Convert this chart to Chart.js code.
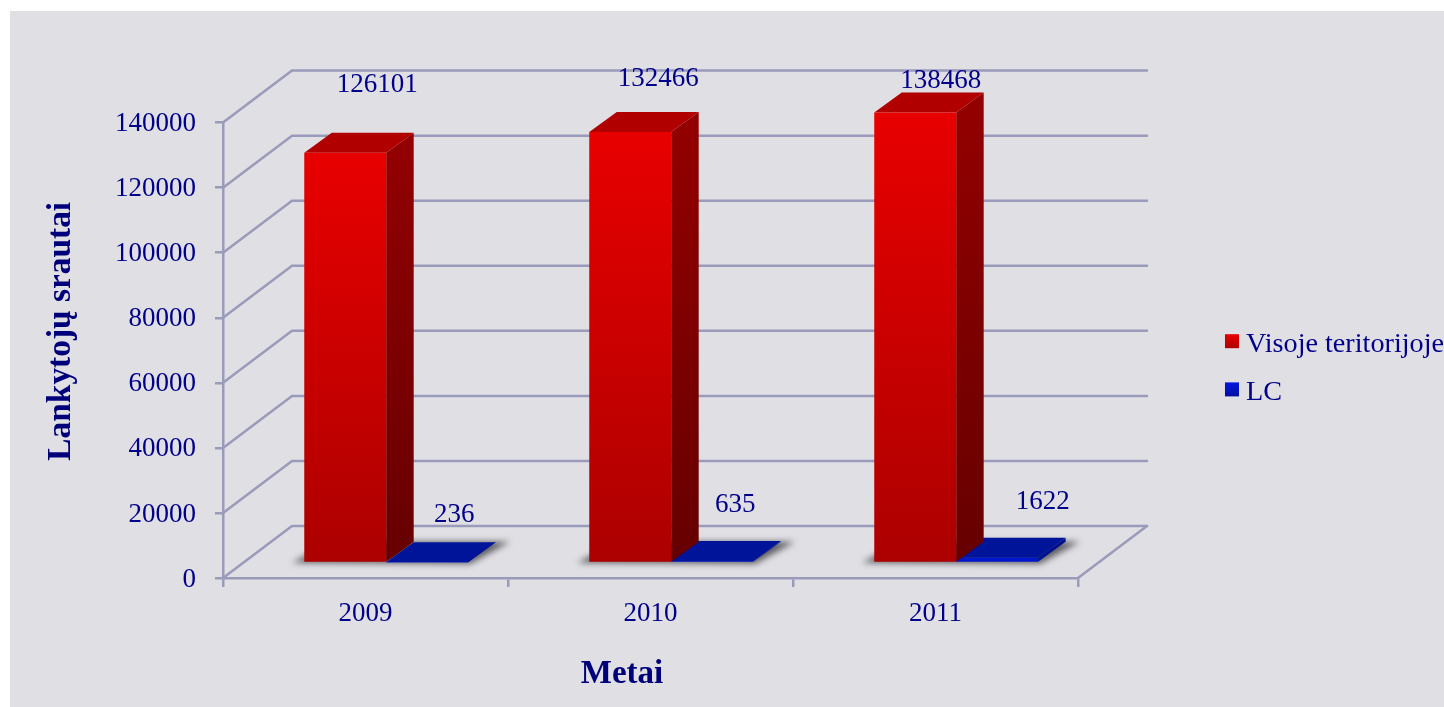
<!DOCTYPE html>
<html>
<head>
<meta charset="utf-8">
<title>Lankytojų srautai</title>
<script src="https://cdn.jsdelivr.net/npm/chart.js@4"></script>
<style>
    html, body { margin: 0; padding: 0; background: #fff; overflow: hidden; }
    #wrap { position: absolute; left: 10px; top: 11px; width: 1434px; height: 696px; background: #e0dfe4; }
</style>
</head>
<body>
<div id="wrap"><canvas id="chart" width="1434" height="696"></canvas></div>
<script>
const years = ['2009', '2010', '2011'];
const visojeTeritorijoje = [126101, 132466, 138468];
const lc = [236, 635, 1622];
const seriesNames = ['Visoje teritorijoje', 'LC'];
const yTicksMax = 140000;
const yTicksStep = 20000;

const serif = '"Liberation Serif", "Times New Roman", serif';
const navy = '#00008b';
const gridColor = '#9a9aba';

// 3d look: depth of the whole box, depth of a bar, shift of bars into the box
const wall = { dx: 69, dy: -52 };
const barDepth = { dx: 27.5, dy: -20 };
const barShift = { dx: 20.7, dy: -15 };

// the value labels were moved by hand in the original, offsets from top of the bar
const labelOffsets = [
    [[32, -67.5], [28, -53.5], [25.5, -31.5]],
    [[27, -47.5], [23, -56.5], [45.5, -55.5]]
];

const faces = [
    { front: ['#e80000', '#ac0000'], side: ['#920000', '#660000'], top: '#b00000', swatch: ['#e80000', '#b00000'] },
    { front: ['#0016cc', '#0016cc'], side: ['#00108c', '#00108c'], top: '#00149a', swatch: ['#0018e0', '#0010a0'] }
];

function poly(ctx, pts) {
    ctx.beginPath();
    pts.forEach((p, i) => i ? ctx.lineTo(p[0], p[1]) : ctx.moveTo(p[0], p[1]));
    ctx.closePath();
    ctx.fill();
}

function frontGradient(c) {
    const face = faces[c.datasetIndex];
    const { ctx, scales } = c.chart;
    if (!scales.y || c.raw === undefined) return face.front[0];
    const y0 = scales.y.getPixelForValue(c.raw);
    const y1 = scales.y.getPixelForValue(0);
    if (!isFinite(y0) || !isFinite(y1)) return face.front[0];
    const g = ctx.createLinearGradient(0, y0, 0, y1);
    g.addColorStop(0, face.front[0]);
    g.addColorStop(1, face.front[1]);
    return g;
}

// the library has no option to move an axis title along the axis
function nudge(scale, method, dx, dy) {
    const orig = scale[method];
    scale[method] = function (...args) {
        const ctx = this.ctx;
        ctx.save();
        ctx.translate(dx, dy);
        orig.apply(this, args);
        ctx.restore();
    };
}

const box3d = {
    id: 'box3d',
    afterLayout(chart) {
        // legend sits away from the plot, not next to it
        const legend = chart.legend;
        legend.left += 134;
        legend.right += 134;
        legend.top -= 40;
        legend.bottom -= 40;
    },
    beforeDraw(chart) {
        nudge(chart.scales.y, 'drawTitle', 0, -19);
        nudge(chart.scales.y, 'drawLabels', 0, 1.5);
        nudge(chart.scales.x, 'drawTitle', -28.5, 0);
    },
    beforeDatasetsDraw(chart) {
        const { ctx, chartArea, scales: { y } } = chart;
        ctx.save();
        ctx.strokeStyle = gridColor;
        ctx.lineWidth = 2.5;
        ctx.lineCap = 'round';
        y.ticks.forEach(t => {
            const py = y.getPixelForValue(t.value);
            ctx.beginPath();
            ctx.moveTo(chartArea.left, py);
            ctx.lineTo(chartArea.left + wall.dx, py + wall.dy);
            ctx.lineTo(chartArea.right + wall.dx, py + wall.dy);
            ctx.stroke();
        });
        ctx.beginPath();
        ctx.moveTo(chartArea.right, chartArea.bottom);
        ctx.lineTo(chartArea.right + wall.dx, chartArea.bottom + wall.dy);
        ctx.stroke();

        // floor shadow under each pair of bars
        const red = chart.getDatasetMeta(0).data;
        const blue = chart.getDatasetMeta(1).data;
        ctx.filter = 'blur(3px)';
        ctx.fillStyle = 'rgba(50,50,55,0.75)';
        red.forEach((bar, i) => {
            const l = bar.x - bar.width / 2 + barShift.dx;
            const r = blue[i].x + blue[i].width / 2 + barShift.dx;
            const b = bar.base + barShift.dy;
            poly(ctx, [[l - 12, b + 1], [l + barDepth.dx, b + barDepth.dy], [r + barDepth.dx + 14, b + barDepth.dy],
                [r + 2, b + 2]]);
        });
        ctx.restore();
    },
    beforeDatasetDraw(chart, args) {
        const ctx = chart.ctx;
        const face = faces[args.index];
        ctx.save();
        ctx.translate(barShift.dx, barShift.dy);
        args.meta.data.forEach(bar => {
            const l = bar.x - bar.width / 2;
            const r = bar.x + bar.width / 2;
            const g = ctx.createLinearGradient(0, bar.y, 0, bar.base);
            g.addColorStop(0, face.side[0]);
            g.addColorStop(1, face.side[1]);
            ctx.fillStyle = g;
            poly(ctx, [[r, bar.y], [r + barDepth.dx, bar.y + barDepth.dy], [r + barDepth.dx, bar.base + barDepth.dy], [r, bar.base]]);
            ctx.fillStyle = face.top;
            poly(ctx, [[l, bar.y], [l + barDepth.dx, bar.y + barDepth.dy], [r + barDepth.dx, bar.y + barDepth.dy], [r, bar.y]]);
        });
    },
    afterDatasetDraw(chart) {
        chart.ctx.restore();
    },
    afterDatasetsDraw(chart) {
        const ctx = chart.ctx;
        ctx.save();
        ctx.font = '27px ' + serif;
        ctx.fillStyle = navy;
        ctx.textAlign = 'center';
        ctx.textBaseline = 'middle';
        chart.data.datasets.forEach((ds, d) => {
            chart.getDatasetMeta(d).data.forEach((bar, i) => {
                const off = labelOffsets[d][i];
                ctx.fillText(ds.data[i], bar.x + barShift.dx + off[0], bar.y + barShift.dy + off[1]);
            });
        });
        ctx.restore();
    },
    afterDraw(chart) {
        // legend swatches have a gradient and sit closer to the text than the library allows
        const ctx = chart.ctx;
        chart.legend.legendHitBoxes.forEach((hit, i) => {
            const top = hit.top + hit.height / 2 - 10;
            const g = ctx.createLinearGradient(0, top, 0, top + 14);
            g.addColorStop(0, faces[i].swatch[0]);
            g.addColorStop(1, faces[i].swatch[1]);
            ctx.fillStyle = g;
            ctx.fillRect(hit.left - 7, top, 14, 14);
        });
    }
};

new Chart(document.getElementById('chart'), {
    type: 'bar',
    data: {
        labels: years,
        datasets: [
            { label: seriesNames[0], data: visojeTeritorijoje, backgroundColor: frontGradient, clip: false },
            { label: seriesNames[1], data: lc, backgroundColor: frontGradient, clip: false }
        ]
    },
    plugins: [box3d],
    options: {
        responsive: false,
        animation: false,
        events: [],
        layout: { padding: { left: 31, top: 111.6, right: 124, bottom: 13 } },
        datasets: { bar: { barPercentage: 1, categoryPercentage: 0.575 } },
        plugins: {
            tooltip: { enabled: false },
            legend: {
                position: 'right',
                labels: { boxWidth: 0, padding: 20, color: navy, font: { family: serif, size: 28.2 } }
            }
        },
        scales: {
            x: {
                grid: { color: gridColor, lineWidth: 2.5, drawOnChartArea: false, tickLength: 9 },
                border: { color: gridColor, width: 2.5 },
                ticks: { color: navy, padding: 11, font: { family: serif, size: 27 } },
                title: { display: true, text: 'Metai', color: '#00007a', padding: 0, font: { family: serif, size: 33, weight: 'bold' } },
                afterFit(s) { s.height = 696 - 567 - 13; }
            },
            y: {
                min: 0,
                max: yTicksMax,
                grid: { color: gridColor, lineWidth: 2.5, drawOnChartArea: false, tickLength: 8 },
                border: { color: gridColor, width: 2.5 },
                ticks: { stepSize: yTicksStep, color: navy, padding: 19, format: { useGrouping: false }, font: { family: serif, size: 27 } },
                title: { display: true, text: 'Lankytojų srautai', color: '#00007a', padding: 0, font: { family: serif, size: 33.4, weight: 'bold' } },
                afterFit(s) { s.width = 213 - 31; }
            }
        }
    }
});
</script>
</body>
</html>
